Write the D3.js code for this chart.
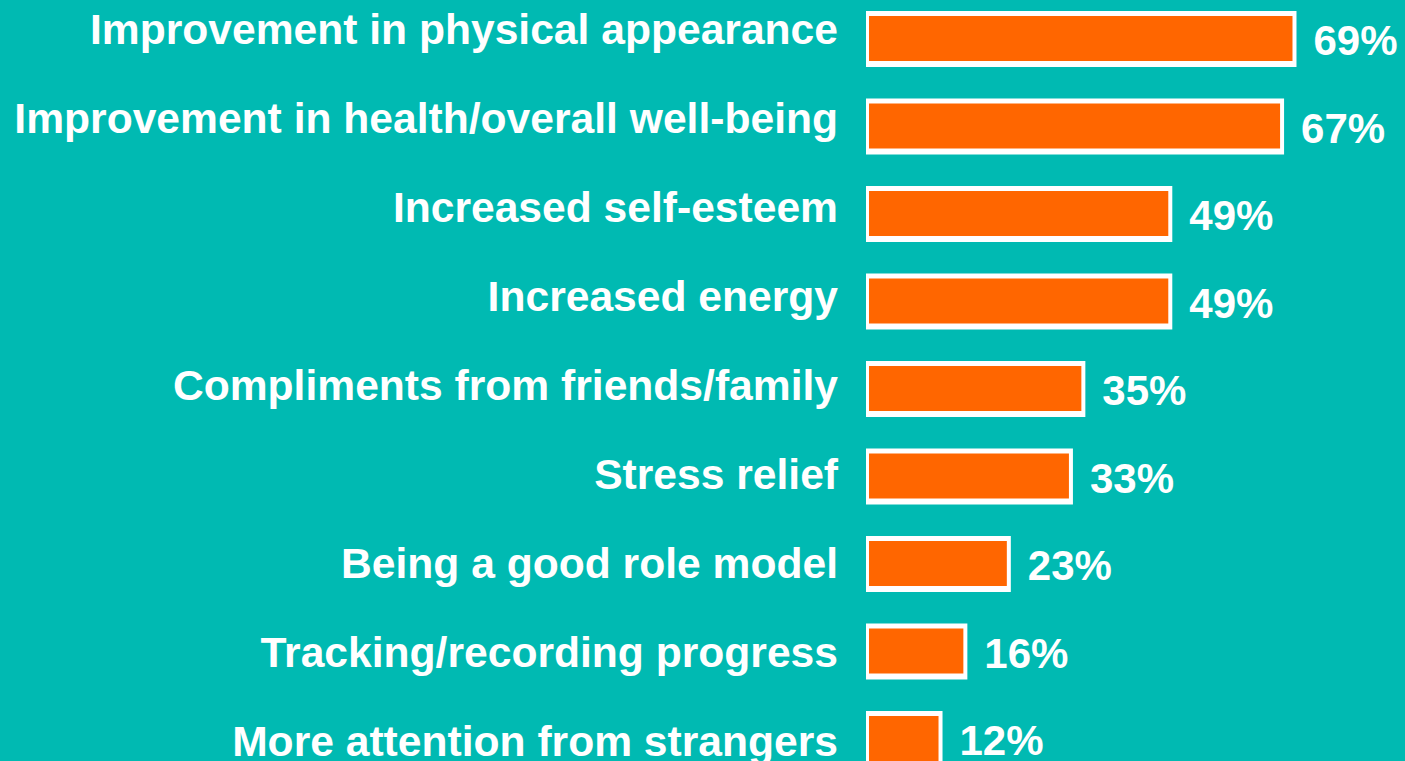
<!DOCTYPE html>
<html>
<head>
<meta charset="utf-8">
<script src="https://cdn.jsdelivr.net/npm/d3@7"></script>
<style>
  html, body { margin: 0; padding: 0; background: #00BAB2; overflow: hidden; }
</style>
</head>
<body>
<script>
const categories = [
  "Improvement in physical appearance",
  "Improvement in health/overall well-being",
  "Increased self-esteem",
  "Increased energy",
  "Compliments from friends/family",
  "Stress relief",
  "Being a good role model",
  "Tracking/recording progress",
  "More attention from strangers"
];
const values = [69, 67, 49, 49, 35, 33, 23, 16, 12];

const width = 1405, height = 761;
const data = categories.map((c, i) => ({ name: c, value: values[i] }));

const svg = d3.select("body").append("svg")
  .attr("width", width)
  .attr("height", height)
  .style("display", "block")
  .style("font-family", "'Liberation Sans', Arial, sans-serif")
  .style("font-weight", "bold");

svg.append("rect").attr("width", width).attr("height", height).attr("fill", "#00BAB2");

const x = d3.scaleLinear().domain([0, 100]).range([868, 1489]);
const barLeft = 866;
const y = d3.scaleBand().domain(categories).range([11, 767]).paddingInner(0.36).paddingOuter(0);
// category labels sit on a slightly wider rhythm than the bars
const yLabel = d3.scalePoint().domain(categories).range([44, 756]);

const row = svg.selectAll("g.row").data(data).join("g").attr("class", "row");

// white frame
row.append("rect")
  .attr("x", barLeft)
  .attr("y", d => y(d.name))
  .attr("width", d => x(d.value) - barLeft)
  .attr("height", y.bandwidth())
  .attr("fill", "#fff");

// orange fill
row.append("rect")
  .attr("x", barLeft + 3)
  .attr("y", d => y(d.name) + 5)
  .attr("width", d => x(d.value) - barLeft - 7)
  .attr("height", y.bandwidth() - 11)
  .attr("fill", "#FF6600");

row.append("text")
  .attr("x", 838)
  .attr("y", d => yLabel(d.name))
  .attr("text-anchor", "end")
  .attr("fill", "#fff")
  .attr("font-size", 42.6)
  .text(d => d.name);

row.append("text")
  .attr("x", d => x(d.value) + 17)
  .attr("y", d => y(d.name) + y.bandwidth() / 2 + 16)
  .attr("fill", "#fff")
  .attr("font-size", 42)
  .text(d => d.value + "%");
</script>
</body>
</html>
